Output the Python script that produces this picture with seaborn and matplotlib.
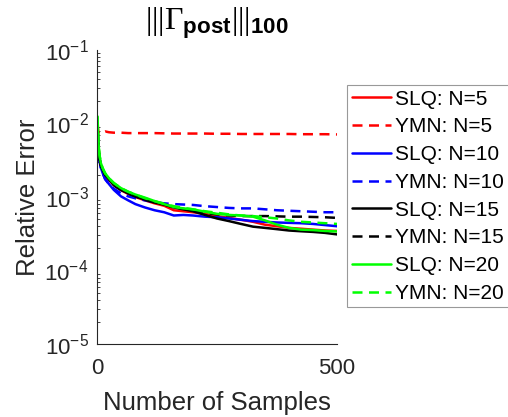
import numpy as np
import pandas as pd
import matplotlib
matplotlib.use("Agg")
import matplotlib.pyplot as plt
import seaborn as sns
from matplotlib.ticker import LogLocator, NullFormatter, FixedLocator

# ---------------- data ----------------
samples = [1, 3, 5, 8, 12, 17, 25, 35, 50, 65, 80, 100, 120, 140, 160, 180,
           200, 225, 250, 275, 300, 325, 350, 375, 400, 425, 450, 475, 500]

slq_5 = [1.0e-2, 4.9e-3, 3.4e-3, 2.7e-3, 2.3e-3, 1.95e-3, 1.7e-3, 1.45e-3, 1.24e-3,
         1.1e-3, 1.0e-3, 9.0e-4, 8.2e-4, 7.6e-4, 6.6e-4, 6.4e-4, 6.2e-4, 5.9e-4,
         5.5e-4, 5.2e-4, 4.9e-4, 4.6e-4, 4.2e-4, 4.0e-4, 3.8e-4, 3.7e-4, 3.6e-4,
         3.5e-4, 3.45e-4]
ymn_5 = [1.0e-2, 7.6e-3, 7.3e-3, 7.4e-3, 7.6e-3, 7.8e-3, 7.6e-3, 7.5e-3, 7.5e-3,
         7.4e-3, 7.4e-3, 7.4e-3, 7.4e-3, 7.35e-3, 7.3e-3, 7.3e-3, 7.3e-3, 7.3e-3,
         7.25e-3, 7.25e-3, 7.2e-3, 7.2e-3, 7.2e-3, 7.2e-3, 7.2e-3, 7.15e-3, 7.15e-3,
         7.15e-3, 7.1e-3]
slq_10 = [9.5e-3, 4.6e-3, 3.2e-3, 2.5e-3, 2.1e-3, 1.75e-3, 1.5e-3, 1.25e-3, 1.02e-3,
          9.0e-4, 8.0e-4, 7.2e-4, 6.6e-4, 6.2e-4, 5.6e-4, 5.7e-4, 5.6e-4, 5.4e-4,
          5.3e-4, 5.1e-4, 4.9e-4, 4.7e-4, 4.6e-4, 4.5e-4, 4.45e-4, 4.4e-4, 4.3e-4,
          4.15e-4, 4.0e-4]
ymn_10 = [9.5e-3, 4.6e-3, 3.2e-3, 2.5e-3, 2.1e-3, 1.75e-3, 1.5e-3, 1.3e-3, 1.12e-3,
          1.02e-3, 9.6e-4, 9.0e-4, 8.5e-4, 8.2e-4, 8.0e-4, 7.9e-4, 7.8e-4, 7.5e-4,
          7.3e-4, 7.1e-4, 7.0e-4, 7.0e-4, 6.8e-4, 6.6e-4, 6.5e-4, 6.4e-4, 6.3e-4,
          6.2e-4, 6.2e-4]
slq_15 = [9.5e-3, 4.8e-3, 3.4e-3, 2.7e-3, 2.3e-3, 2.0e-3, 1.75e-3, 1.45e-3, 1.25e-3,
          1.12e-3, 1.02e-3, 9.2e-4, 8.4e-4, 7.9e-4, 7.2e-4, 6.8e-4, 6.4e-4, 5.7e-4,
          5.1e-4, 4.7e-4, 4.3e-4, 3.95e-4, 3.8e-4, 3.65e-4, 3.5e-4, 3.42e-4, 3.35e-4,
          3.25e-4, 3.1e-4]
ymn_15 = [9.5e-3, 4.8e-3, 3.4e-3, 2.7e-3, 2.3e-3, 2.0e-3, 1.75e-3, 1.45e-3, 1.25e-3,
          1.12e-3, 1.02e-3, 9.2e-4, 8.5e-4, 7.9e-4, 7.3e-4, 6.9e-4, 6.5e-4, 6.1e-4,
          5.8e-4, 5.6e-4, 5.5e-4, 5.5e-4, 5.5e-4, 5.45e-4, 5.4e-4, 5.4e-4, 5.35e-4,
          5.3e-4, 5.2e-4]
slq_20 = [1.25e-2, 5.5e-3, 3.8e-3, 2.9e-3, 2.45e-3, 2.1e-3, 1.8e-3, 1.55e-3, 1.32e-3,
          1.18e-3, 1.08e-3, 9.8e-4, 8.8e-4, 8.0e-4, 7.3e-4, 7.0e-4, 6.8e-4, 6.3e-4,
          5.9e-4, 5.7e-4, 5.6e-4, 5.4e-4, 4.8e-4, 4.2e-4, 3.8e-4, 3.6e-4, 3.55e-4,
          3.45e-4, 3.4e-4]
ymn_20 = [1.25e-2, 5.5e-3, 3.8e-3, 2.9e-3, 2.45e-3, 2.1e-3, 1.8e-3, 1.55e-3, 1.32e-3,
          1.18e-3, 1.08e-3, 9.6e-4, 8.8e-4, 8.1e-4, 7.5e-4, 7.1e-4, 6.8e-4, 6.4e-4,
          6.1e-4, 5.8e-4, 5.6e-4, 5.5e-4, 5.3e-4, 5.1e-4, 4.8e-4, 4.6e-4, 4.5e-4,
          4.4e-4, 4.3e-4]

series_labels = ["SLQ: N=5", "YMN: N=5", "SLQ: N=10", "YMN: N=10",
                 "SLQ: N=15", "YMN: N=15", "SLQ: N=20", "YMN: N=20"]
series_values = [slq_5, ymn_5, slq_10, ymn_10, slq_15, ymn_15, slq_20, ymn_20]
series_colors = ["#ff0000", "#ff0000", "#0000ff", "#0000ff",
                 "#000000", "#000000", "#00ff00", "#00ff00"]
series_dashed = [False, True, False, True, False, True, False, True]

title_text = r"$|||\Gamma_{\mathbf{post}}|||_{\mathbf{100}}$"
xlabel_text = "Number of Samples"
ylabel_text = "Relative Error"

# ---------------- style ----------------
sns.set_style("white")
plt.rcParams["font.family"] = ["Liberation Sans", "DejaVu Sans"]
plt.rcParams["axes.unicode_minus"] = False
plt.rcParams["mathtext.fontset"] = "custom"
plt.rcParams["mathtext.rm"] = "Liberation Serif"
plt.rcParams["mathtext.it"] = "Liberation Serif:italic"
plt.rcParams["mathtext.bf"] = "Liberation Sans:bold"

fig = plt.figure(figsize=(5.08, 4.17), dpi=100)
ax = fig.add_axes([97 / 508, 1 - 344 / 417, 240 / 508, 294 / 417])

for lab, vals, col, dsh in zip(series_labels, series_values, series_colors, series_dashed):
    df = pd.DataFrame({"x": samples, "y": vals})
    line_ax = sns.lineplot(data=df, x="x", y="y", ax=ax, color=col, linewidth=1.8,
                           label=lab, legend=False)
    ln = line_ax.get_lines()[-1]
    if dsh:
        ln.set_dashes((4, 2.6))

ax.set_yscale("log")
ax.set_xlim(0, 500)
ax.set_ylim(1e-5, 1e-1)
ax.xaxis.set_major_locator(FixedLocator([0, 500]))
ax.yaxis.set_major_locator(LogLocator(base=10, numticks=10))
ax.yaxis.set_minor_locator(LogLocator(base=10, subs=np.arange(2, 10), numticks=10))
ax.yaxis.set_minor_formatter(NullFormatter())

for s in ["top", "right"]:
    ax.spines[s].set_visible(False)
for s in ["left", "bottom"]:
    ax.spines[s].set_color("#262626")
    ax.spines[s].set_linewidth(0.8)

ax.tick_params(axis="both", which="major", direction="in", length=4, width=0.7,
               colors="#262626", labelsize=16, labelcolor="#262626")
ax.tick_params(axis="y", which="major", pad=6)
ax.tick_params(axis="x", which="major", pad=10)
ax.tick_params(axis="y", which="minor", direction="in", length=2.5, width=0.6,
               colors="#262626", left=True)
ax.tick_params(axis="x", which="minor", bottom=False)

ax.set_xlabel(xlabel_text, fontsize=18.5, color="#262626", labelpad=9)
ax.set_ylabel(ylabel_text, fontsize=18.5, color="#262626", labelpad=3)
ax.set_title(title_text, fontsize=23, color="black", pad=15)

handles = ax.get_lines()
leg = fig.legend(handles, series_labels, loc="upper left",
                 bbox_to_anchor=(347 / 508, 1 - 85 / 417), bbox_transform=fig.transFigure,
                 fontsize=15, frameon=True, fancybox=False, handlelength=1.9,
                 handletextpad=0.2, labelspacing=0.42, borderpad=0.22,
                 borderaxespad=0.0)
leg.get_frame().set_edgecolor("#808080")
leg.get_frame().set_linewidth(0.8)
leg.get_frame().set_facecolor("white")
for t in leg.get_texts():
    t.set_color("black")

fig.savefig("out.png", dpi=100)
